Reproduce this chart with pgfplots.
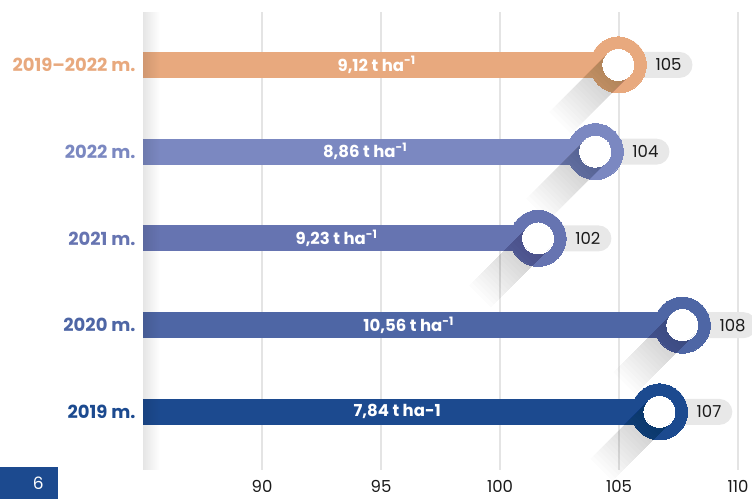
\documentclass[border=0pt]{standalone}
\usepackage{pgfplots}
\pgfplotsset{compat=1.18}
\usepackage{fontspec}
\setmainfont{Poppins}
\usetikzlibrary{fadings}
\definecolor{cA}{HTML}{E8A97E}
\definecolor{cB}{HTML}{7B88C1}
\definecolor{cC}{HTML}{6674B1}
\definecolor{cD}{HTML}{4E66A5}
\definecolor{cE}{HTML}{1C4A8F}
\definecolor{pillgray}{HTML}{E8E8E8}
\definecolor{gridgray}{HTML}{E4E4E4}
\definecolor{txt}{HTML}{1A1A1A}
\tikzfading[name=faderight, left color=transparent!0, right color=transparent!100]
\pgfdeclareplotmark{lshadow}{%
  \pgftransformrotate{225}%
  \foreach \i in {1,...,20}{%
    \begin{pgfscope}%
      \pgfsetfillcolor{black}%
      \pgfsetfillopacity{0.013}%
      \pgfpathrectangle{\pgfpoint{0pt}{-15.5pt}}{\pgfpoint{\i*4.1pt}{31pt}}%
      \pgfusepath{fill}%
    \end{pgfscope}%
  }%
}
\newcommand\cat[5]{%
  \addplot[draw=none, forget plot] coordinates {(#2,#3)}
    node[anchor=west, fill=pillgray, rounded corners=13pt, minimum height=26pt, inner sep=0pt,
         text=txt, font=\fontsize{16.5}{16.5}\selectfont]{\hspace*{37pt}#4\hspace*{11pt}};
  \addplot[#1, line width=26pt, forget plot] coordinates {(85,#3) (#2,#3)}
    node[pos=0.5, xshift=-4pt, text=white, font=\bfseries\fontsize{16.5}{16.5}\selectfont]{#5};
  \addplot[#1, only marks, mark=*, mark size=28pt, mark options={draw=#1, fill=#1, line width=0pt}, forget plot] coordinates {(#2,#3)};
  \addplot[only marks, mark=lshadow, forget plot] coordinates {(#2,#3)};
  \addplot[white, only marks, mark=*, mark size=15.5pt, mark options={draw=white, fill=white, line width=0pt}, forget plot] coordinates {(#2,#3)};
}
\begin{document}
\begin{tikzpicture}
\begin{axis}[
  scale only axis, width=595pt, height=458pt,
  xmin=85, xmax=110, ymin=0.33, ymax=5.61,
  clip=false,
  axis line style={draw=none},
  major tick length=0pt,
  xtick={90,95,100,105,110},
  xmajorgrids, grid style={gridgray, line width=2pt},
  ytick={1,2,3,4,5},
  yticklabels={{\textcolor{cE}{2019 m.}},{\textcolor{cD}{2020 m.}},{\textcolor{cC}{2021 m.}},{\textcolor{cB}{2022 m.}},{\textcolor{cA}{2019–2022 m.}}},
  yticklabel style={font=\bfseries\fontsize{18}{18}\selectfont, xshift=-4pt},
  xticklabel style={font=\fontsize{16.5}{16.5}\selectfont, text=txt, yshift=-7pt},
  /pgf/number format/assume math mode=true,
]
\cat{cA}{104.97}{5}{105}{9,12 t ha\textsuperscript{-1}}
\cat{cB}{104.0}{4}{104}{8,86 t ha\textsuperscript{-1}}
\cat{cC}{101.6}{3}{102}{9,23 t ha\textsuperscript{-1}}
\cat{cD}{107.66}{2}{108}{10,56 t ha\textsuperscript{-1}}
\cat{cE}{106.7}{1}{107}{7,84 t ha-1}
\fill[black, opacity=0.10, path fading=faderight] (rel axis cs:0,0) rectangle (rel axis cs:0.028,1);
\node[fill=cE, anchor=north west, minimum width=58pt, minimum height=32pt, inner sep=0pt,
      text=white, font=\fontsize{17}{17}\selectfont] at (rel axis cs:-0.2403,0.0066) {\hspace*{18pt}\raisebox{-6pt}{6}};
\coordinate (BL) at (rel axis cs:-0.2403,-0.0633);
\coordinate (TR) at (rel axis cs:1.0235,1.0262);
\end{axis}
\pgfresetboundingbox
\useasboundingbox (BL) rectangle (TR);
\end{tikzpicture}
\end{document}
